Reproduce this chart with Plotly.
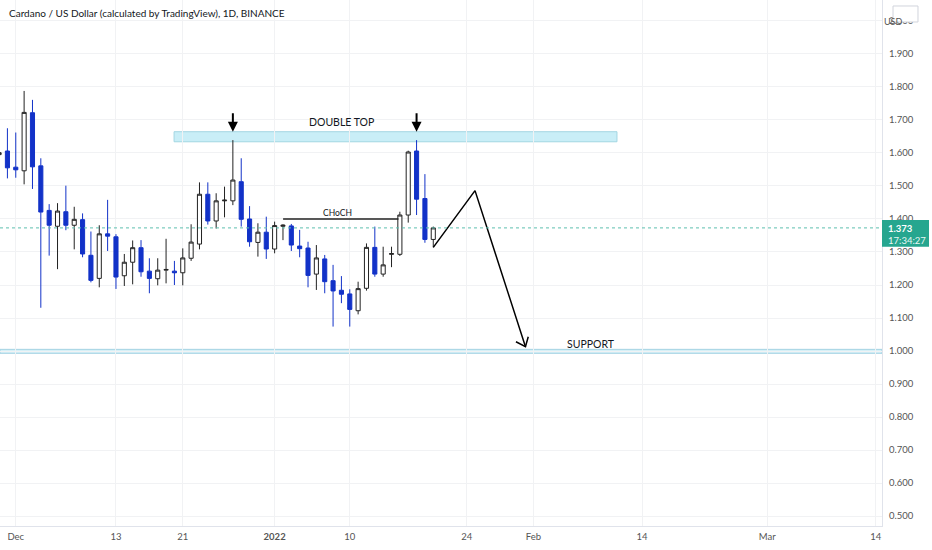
import plotly.graph_objects as go

# Daily ADA/USD candles
dates = [
    '2021-11-29', '2021-11-30', '2021-12-01', '2021-12-02', '2021-12-03', '2021-12-04', '2021-12-05',
    '2021-12-06', '2021-12-07', '2021-12-08', '2021-12-09', '2021-12-10', '2021-12-11', '2021-12-12',
    '2021-12-13', '2021-12-14', '2021-12-15', '2021-12-16', '2021-12-17', '2021-12-18', '2021-12-19',
    '2021-12-20', '2021-12-21', '2021-12-22', '2021-12-23', '2021-12-24', '2021-12-25', '2021-12-26',
    '2021-12-27', '2021-12-28', '2021-12-29', '2021-12-30', '2021-12-31', '2022-01-01', '2022-01-02',
    '2022-01-03', '2022-01-04', '2022-01-05', '2022-01-06', '2022-01-07', '2022-01-08', '2022-01-09',
    '2022-01-10', '2022-01-11', '2022-01-12', '2022-01-13', '2022-01-14', '2022-01-15', '2022-01-16',
    '2022-01-17', '2022-01-18', '2022-01-19', '2022-01-20',
]
opens = [
    1.595, 1.606, 1.557, 1.546, 1.722, 1.561, 1.426,
    1.378, 1.422, 1.381, 1.398, 1.290, 1.220, 1.355,
    1.346, 1.228, 1.269, 1.313, 1.242, 1.219, 1.245,
    1.242, 1.237, 1.281, 1.324, 1.475, 1.394, 1.455,
    1.455, 1.513, 1.400, 1.329, 1.360, 1.309, 1.378,
    1.379, 1.318, 1.312, 1.233, 1.279, 1.213, 1.184,
    1.173, 1.122, 1.190, 1.314, 1.233, 1.293, 1.293,
    1.412, 1.606, 1.462, 1.338,
]
highs = [
    1.630, 1.675, 1.662, 1.788, 1.761, 1.584, 1.445,
    1.448, 1.501, 1.437, 1.417, 1.362, 1.381, 1.458,
    1.354, 1.294, 1.335, 1.336, 1.281, 1.281, 1.340,
    1.273, 1.311, 1.384, 1.511, 1.511, 1.478, 1.498,
    1.639, 1.584, 1.439, 1.387, 1.407, 1.392, 1.384,
    1.385, 1.367, 1.331, 1.321, 1.291, 1.261, 1.227,
    1.187, 1.210, 1.326, 1.377, 1.316, 1.316, 1.422,
    1.607, 1.639, 1.536, 1.377,
]
lows = [
    1.560, 1.523, 1.525, 1.505, 1.491, 1.131, 1.289,
    1.248, 1.366, 1.308, 1.284, 1.208, 1.193, 1.303,
    1.188, 1.197, 1.202, 1.225, 1.175, 1.199, 1.205,
    1.200, 1.199, 1.273, 1.308, 1.383, 1.371, 1.405,
    1.442, 1.377, 1.316, 1.286, 1.279, 1.296, 1.336,
    1.303, 1.284, 1.193, 1.185, 1.175, 1.074, 1.145,
    1.074, 1.111, 1.183, 1.225, 1.225, 1.254, 1.288,
    1.389, 1.412, 1.328, 1.314,
]
closes = [
    1.601, 1.555, 1.549, 1.723, 1.558, 1.421, 1.381,
    1.424, 1.381, 1.399, 1.294, 1.214, 1.355, 1.348,
    1.224, 1.269, 1.313, 1.240, 1.220, 1.245, 1.247,
    1.237, 1.282, 1.330, 1.475, 1.394, 1.455, 1.457,
    1.518, 1.399, 1.331, 1.360, 1.309, 1.380, 1.381,
    1.321, 1.310, 1.229, 1.282, 1.210, 1.182, 1.172,
    1.126, 1.189, 1.314, 1.233, 1.261, 1.295, 1.412,
    1.603, 1.460, 1.338, 1.373,
]
last_price = 1.373
countdown = '17:34:27'

# Drawings on the chart
double_top_zone = ['2021-12-19 23:00', '2022-02-11 00:00', 1.634, 1.6645]
double_top_arrows = ['2021-12-27', '2022-01-18']
choch_level = ['2022-01-02 00:20', '2022-01-15 20:00', 1.400]
support_zone = [0.993, 1.005]
proj_dates = ['2022-01-20 00:00', '2022-01-25 00:00', '2022-01-31 01:00']
proj_prices = [1.314, 1.486, 1.013]
head_dates = ['2022-01-29 21:40', '2022-01-31 01:00', '2022-01-31 09:00']
head_prices = [1.028, 1.013, 1.043]

# Axis ticks
tick_dates = ['2021-12-01', '2021-12-13', '2021-12-21', '2022-01-01', '2022-01-10',
              '2022-01-24', '2022-02-01', '2022-02-14', '2022-03-01', '2022-03-14']
tick_text = ['Dec', '13', '21', '<b>2022</b>', '10', '24', 'Feb', '14', 'Mar', '14']
price_ticks = [0.5, 0.6, 0.7, 0.8, 0.9, 1.0, 1.1, 1.2, 1.3, 1.4, 1.5, 1.6, 1.7, 1.8, 1.9, 2.0]

FONT = 'Lato, sans-serif'
BLUE = '#1232c8'
TEAL = '#26a68f'

fig = go.Figure(layout=go.Layout(width=932, height=550))

# Candles
fig.add_trace(go.Candlestick(
    x=dates, open=opens, high=highs, low=lows, close=closes,
    increasing=dict(fillcolor='white', line=dict(color='#222222', width=1)),
    decreasing=dict(fillcolor=BLUE, line=dict(color=BLUE, width=1)),
    whiskerwidth=0, hoverinfo='skip'
))

# Projected path with open arrow head
fig.add_trace(go.Scatter(x=proj_dates, y=proj_prices, mode='lines',
                         line=dict(color='black', width=1.5), hoverinfo='skip'))
fig.add_trace(go.Scatter(x=head_dates, y=head_prices, mode='lines',
                         line=dict(color='black', width=1.5), hoverinfo='skip'))

# Double top zone
fig.add_shape(type='rect', x0=double_top_zone[0], x1=double_top_zone[1],
              y0=double_top_zone[2], y1=double_top_zone[3],
              fillcolor='#c9eef7', line=dict(color='#a3d6e2', width=1), layer='below')

# Support band across the whole chart
fig.add_shape(type='rect', xref='paper', x0=0, x1=1, y0=support_zone[0], y1=support_zone[1],
              fillcolor='#d6f0f7', line=dict(color='#a3d3e3', width=1), layer='below')

# CHoCH level
fig.add_shape(type='line', x0=choch_level[0], x1=choch_level[1], y0=choch_level[2], y1=choch_level[2],
              line=dict(color='#222222', width=1.5))

# Last price dotted line
fig.add_shape(type='line', xref='paper', x0=0, x1=1, y0=last_price, y1=last_price,
              line=dict(color='#5cbfae', width=1, dash='dot'))

# Arrows above the two tops
for d in double_top_arrows:
    fig.add_annotation(x=d, y=double_top_zone[3], text='', showarrow=True, ax=0, ay=-20,
                       arrowhead=2, arrowsize=1, arrowwidth=2, arrowcolor='black', standoff=0)

# Text labels
fig.add_annotation(x='2022-01-08 23:00', y=1.694, text='DOUBLE TOP', showarrow=False,
                   font=dict(family=FONT, size=10.5, color='#131722'))
fig.add_annotation(x='2022-01-08 14:00', y=1.419, text='CHoCH', showarrow=False,
                   font=dict(family=FONT, size=8.5, color='#131722'))
fig.add_annotation(x='2022-02-07 22:00', y=1.021, text='SUPPORT', showarrow=False,
                   font=dict(family=FONT, size=10.5, color='#131722'))

# Title
fig.add_annotation(xref='paper', yref='paper', x=0.008, y=0.975, xanchor='left', yanchor='middle',
                   text='Cardano / US Dollar (calculated by TradingView), 1D, BINANCE', showarrow=False,
                   font=dict(family=FONT, size=10, color='#131722'))

# Last price tag on the price scale
fig.add_shape(type='rect', xref='paper', x0=1.0, x1=1.0533, y0=1.316, y1=1.397,
              fillcolor=TEAL, line=dict(width=0), layer='above')
fig.add_annotation(xref='paper', x=1.004, y=1.3727, xanchor='left', text='<b>%.3f</b>' % last_price,
                   showarrow=False, font=dict(family=FONT, size=9.5, color='white'))
fig.add_annotation(xref='paper', x=1.004, y=1.336, xanchor='left', text=countdown,
                   showarrow=False, font=dict(family=FONT, size=9.5, color='#e8f6f3'))

# Currency box
fig.add_shape(type='rect', xref='paper', yref='paper', x0=1.0125, x1=1.0408, y0=0.9582, y1=0.9886,
              fillcolor='white', line=dict(color='#d1d4dc', width=1), layer='above')
fig.add_annotation(xref='paper', yref='paper', x=1.0266, y=0.9734, text='USD', showarrow=False,
                   font=dict(family=FONT, size=9, color='#555555'))

fig.update_layout(
    template='plotly_white',
    showlegend=False,
    hovermode=False,
    plot_bgcolor='white',
    paper_bgcolor='white',
    margin=dict(l=0, r=50, t=0, b=24, pad=0),
    font=dict(family=FONT, size=9.5, color='#555555'),
    xaxis=dict(
        type='date', range=['2021-11-29 02:40', '2022-03-14 17:45'],
        rangeslider=dict(visible=False),
        tickvals=tick_dates, ticktext=tick_text, ticks='', ticklabelstandoff=2,
        showgrid=True, gridcolor='#f1f2f4', gridwidth=1,
        showline=True, linecolor='#e0e3eb', zeroline=False,
        tickfont=dict(family=FONT, size=9.5, color='#555555'),
    ),
    yaxis=dict(
        side='right', range=[0.4697, 2.0636],
        tickvals=price_ticks, tickformat='.3f', ticks='', ticklabelstandoff=4,
        showgrid=True, gridcolor='#f1f2f4', gridwidth=1,
        showline=True, linecolor='#e0e3eb', zeroline=False,
        tickfont=dict(family=FONT, size=9.5, color='#555555'),
    ),
)

# Save as HTML (page margin removed so the chart sits at the window corner)
fig.write_html('out.html', config={'displayModeBar': False},
               post_script="document.body.style.margin='0px';")
